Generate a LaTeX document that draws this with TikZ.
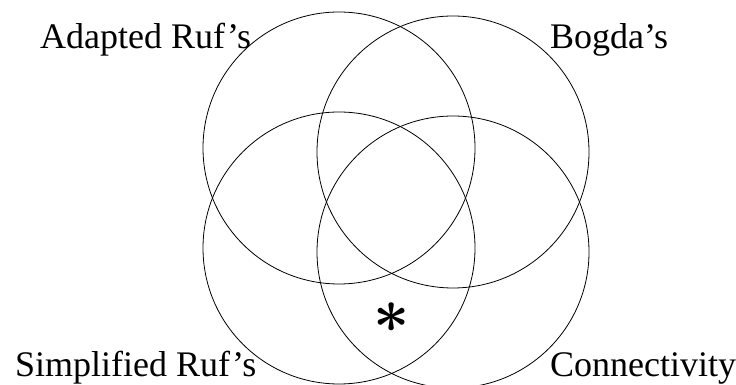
\documentclass[tikz,border=0pt]{standalone}
\usepackage{fontspec}
\setmainfont{Liberation Serif}
\begin{document}
\begin{tikzpicture}[x=1pt,y=1pt,
  setcircle/.style={circle, draw, line width=0.8pt, minimum size=272pt, inner sep=0pt},
  setlabel/.style={font=\fontsize{36}{40}\selectfont, inner sep=0pt, anchor=base west}]
\useasboundingbox (0,0) rectangle (736,385);
\node[setcircle] (adapted) at (339,237) {};
\node[setcircle] (bogda) at (453,233) {};
\node[setcircle] (simplified) at (339,137) {};
\node[setcircle] (connectivity) at (453,133) {};
\node[setlabel] (ladapted) at (40,336) {Adapted Ruf’s};
\node[setlabel] (lbogda) at (550,336) {Bogda’s};
\node[setlabel] (lsimplified) at (15,8) {Simplified Ruf’s};
\node[setlabel] (lconnectivity) at (550,8) {Connectivity};
\node[scale=6.3, inner sep=0pt, font=\boldmath] (star) at (392,67) {$\ast$};
\end{tikzpicture}
\end{document}
